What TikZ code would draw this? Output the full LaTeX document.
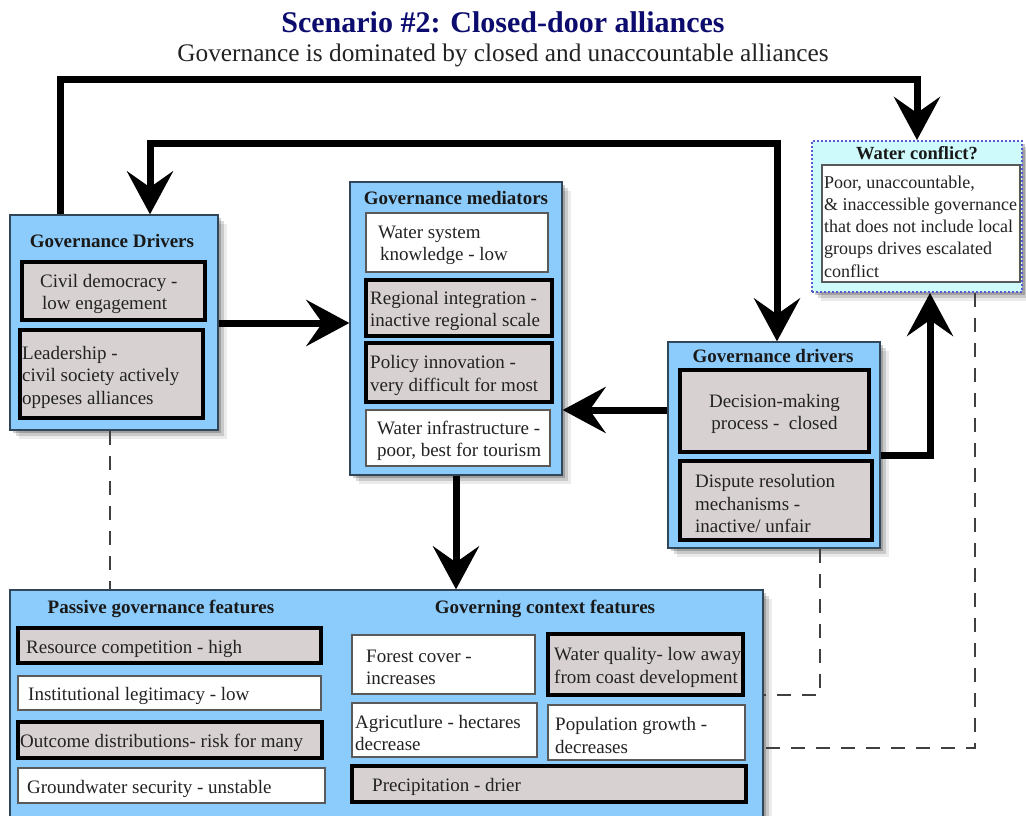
\documentclass[tikz,border=0pt]{standalone}
\usepackage{fontspec}
\setmainfont{Liberation Serif}
\usetikzlibrary{arrows.meta,shadows,calc}

\definecolor{panelblue}{RGB}{140,204,252}
\definecolor{cellfill}{RGB}{216,209,209}
\definecolor{conflictcyan}{RGB}{206,250,252}
\definecolor{titlenavy}{RGB}{12,12,110}
\definecolor{inkgray}{RGB}{34,34,34}
\definecolor{panelrim}{RGB}{50,70,90}
\definecolor{dotblue}{RGB}{90,90,210}

\tikzset{
  x=1pt, y=-1pt,
  softshadow/.style={
    drop shadow={shadow xshift=9pt, shadow yshift=-9pt, opacity=.08, fill=black},
    drop shadow={shadow xshift=6pt, shadow yshift=-6pt, opacity=.14, fill=black},
    drop shadow={shadow xshift=3pt, shadow yshift=-3pt, opacity=.20, fill=black}},
  panel/.style={draw=panelrim, line width=1.3pt, fill=panelblue, softshadow},
  conflictpanel/.style={draw=dotblue, dotted, line width=2pt, fill=conflictcyan, softshadow},
  plaincell/.style={draw=black!65, line width=1.2pt, fill=white},
  keycell/.style={draw=black, line width=4pt, fill=cellfill},
  txt/.style={inner sep=0pt, align=left, text=inkgray, font=\fontsize{19}{22.5}\selectfont},
  smalltxt/.style={txt, font=\fontsize{18}{22.3}\selectfont},
  headtxt/.style={inner sep=0pt, text=black!90, font=\bfseries\fontsize{19}{22}\selectfont},
  arr/.style={line width=7pt, -{Stealth[length=43pt,width=46pt,inset=16pt]}},
  arrboth/.style={line width=7pt, {Stealth[length=43pt,width=46pt,inset=16pt]}-{Stealth[length=43pt,width=46pt,inset=16pt]}},
  dsh/.style={draw=black!75, line width=2pt, dash pattern=on 14pt off 11pt}
}

% box from (x1,y1) to (x2,y2) with its text starting at a given x
\newcommand\diagcell[9][txt]{%
  \node[#7, minimum width={(#5)-(#3)}, minimum height={(#6)-(#4)}, inner sep=0pt]
    (#2) at ({((#3)+(#5))/2},{((#4)+(#6))/2}) {};
  \node[#1, anchor=west] (#2-text) at (#8,{((#4)+(#6))/2+3}) {#9};}
% plain panel box
\newcommand\diagpanel[6]{%
  \node[#6, minimum width={(#4)-(#2)}, minimum height={(#5)-(#3)}, inner sep=0pt]
    (#1) at ({((#2)+(#4))/2},{((#3)+(#5))/2}) {};}

\begin{document}
\begin{tikzpicture}
\fill[white] (0,0) rectangle (1026,816);
\path[use as bounding box] (0,0) rectangle (1026,816);

% headings
\node[font=\bfseries\fontsize{30}{34}\selectfont, text=titlenavy] (title) at (503,22)
  {Scenario \#2: Closed-door alliances};
\node[font=\fontsize{25.3}{28}\selectfont, text=inkgray] (subtitle) at (503,55)
  {Governance is dominated by closed and unaccountable alliances};

% panels
\diagpanel{ld}{10}{215}{218}{430}{panel}
\diagpanel{rd}{668}{342}{880}{548}{panel}
\diagpanel{wc}{812}{141}{1022}{292}{conflictpanel}
\diagpanel{bot}{10}{590}{763}{840}{panel}
\diagpanel{med}{350}{182}{562}{475}{panel}

% dashed links
\draw[dsh] ([xshift=-4pt]ld.south) -- (bot.north -| 110,0);
\draw[dsh] ([xshift=46pt]rd.south) |- (bot.east |- 0,695);
\draw[dsh] ([xshift=58pt]wc.south) |- (bot.east |- 0,748);

% left drivers
\node[headtxt] (ld-head) at (112,241) {Governance Drivers};
\diagcell{ld1}{22}{262}{205}{320}{keycell}{40}{Civil democracy -\\\hspace*{2pt}low engagement}
\diagcell{ld2}{20}{330}{203}{418}{keycell}{22}{Leadership -\\civil society actively\\oppeses alliances}

% mediators
\node[headtxt] (med-head) at (456,198) {Governance mediators};
\diagcell{m1}{366}{213}{548}{272}{plaincell}{378}{Water system\\\hspace*{2pt}knowledge - low}
\diagcell{m2}{366}{280}{552}{336}{keycell}{370}{Regional integration -\\inactive regional scale}
\diagcell{m3}{366}{343}{552}{402}{keycell}{370}{Policy innovation -\\very difficult for most}
\diagcell{m4}{366}{410}{550}{466}{plaincell}{377}{Water infrastructure -\\poor, best for tourism}

% right drivers
\node[headtxt] (rd-head) at (773,356) {Governance drivers};
\diagpanel{r1}{680}{370}{869}{452}{keycell}
\node[txt, align=center] (r1-text) at ([yshift=-3pt]r1.center) {Decision-making\\process -\ \ closed};
\diagcell{r2}{680}{461}{872}{540}{keycell}{695}{Dispute resolution\\mechanisms -\\inactive/ unfair}

% water conflict
\node[headtxt, font=\bfseries\fontsize{18.5}{22}\selectfont] (wc-head) at (917,153) {Water conflict?};
\diagcell[smalltxt]{w1}{822}{165}{1020}{282}{plaincell}{824}{Poor, unaccountable,\\\& inaccessible governance\\that does not include local\\groups drives escalated\\conflict}

% bottom panel
\node[headtxt] (pass-head) at (161,609) {Passive governance features};
\node[headtxt] (ctx-head) at (545,609) {Governing context features};
\diagcell{p1}{18}{628}{321}{663}{keycell}{26}{Resource competition - high}
\diagcell{p2}{18}{676}{321}{710}{plaincell}{28}{Institutional legitimacy - low}
\diagcell{p3}{18}{722}{322}{758}{keycell}{20}{Outcome distributions- risk for many}
\diagcell{p4}{18}{768}{325}{803}{plaincell}{27}{Groundwater security - unstable}
\diagcell{c1}{352}{635}{535}{694}{plaincell}{366}{Forest cover -\\increases}
\diagcell{c2}{548}{634}{743}{695}{keycell}{554}{Water quality- low away\\from coast development}
\diagcell{c3}{352}{703}{537}{757}{plaincell}{355}{Agricutlure - hectares\\decrease}
\diagcell{c4}{548}{705}{745}{760}{plaincell}{555}{Population growth -\\decreases}
\diagcell{c5}{352}{766}{746}{802}{keycell}{372}{Precipitation - drier}

% feedback arrows
\draw[arr] ([xshift=-54pt]ld.north) |- (wc.north |- 0,80) -- (wc.north);
\draw[arrboth] ([xshift=36pt]ld.north) |- ([xshift=3pt]rd.north |- 0,143) -- ([xshift=3pt]rd.north);
\draw[arr] (ld.east |- 0,323) -- (med.west |- 0,323);
\draw[arr] (rd.west |- 0,410) -- (med.east |- 0,410);
\draw[arr] (med.south) -- (bot.north -| med.south);
\draw[arr] (rd.east |- 0,455) -| ([xshift=13pt]wc.south);
\end{tikzpicture}
\end{document}
